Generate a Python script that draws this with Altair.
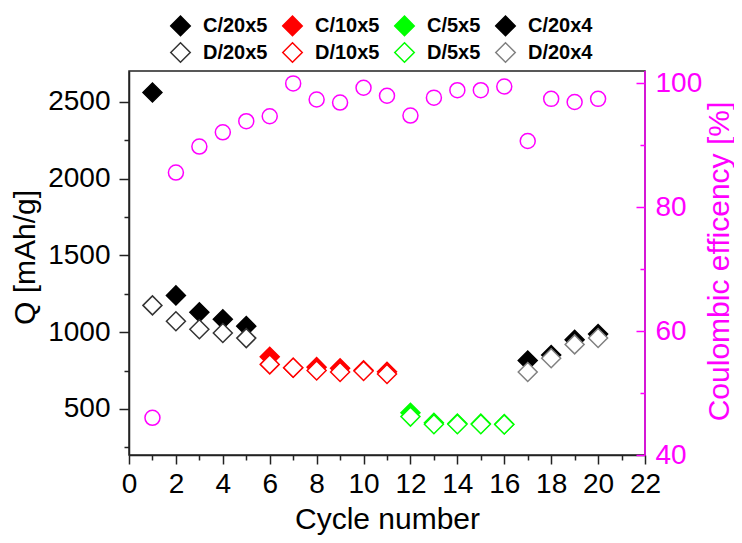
import altair as alt
import pandas as pd

# ---- data ----
cycles = list(range(1, 21))
rate = ["20x5"] * 5 + ["10x5"] * 6 + ["5x5"] * 5 + ["20x4"] * 4
charge = [2560, 1239, 1129, 1084, 1039, 840, 768, 772, 765, 752, 742, 475, 410, 405, 404, 401, 815, 851, 950, 987]
discharge = [1174, 1071, 1019, 994, 961, 790, 768, 750, 740, 747, 727, 450, 400, 400, 400, 399, 740, 830, 920, 962]
efficiency = [46.0, 85.6, 89.8, 92.1, 93.9, 94.7, 100.0, 97.4, 96.9, 99.3, 98.0, 94.8, 97.7, 98.9, 98.9, 99.5, 90.7, 97.5, 97.0, 97.5]

series_order = ["C/20x5", "C/10x5", "C/5x5", "C/20x4", "D/20x5", "D/10x5", "D/5x5", "D/20x4"]
fill_colors = ["#000000", "#ff0000", "#00ff00", "#000000", "#ffffff", "#ffffff", "#ffffff", "#ffffff"]
stroke_colors = ["#000000", "#ff0000", "#00ff00", "#000000", "#333333", "#ff0000", "#00ff00", "#808080"]

x_ticks = list(range(0, 23))
q_ticks = list(range(250, 2501, 250))
ce_ticks = list(range(40, 101, 10))

rows = []
for c, r, v in zip(cycles, rate, charge):
    rows.append({"cycle": c, "Q": v, "series": "C/" + r})
for c, r, v in zip(cycles, rate, discharge):
    rows.append({"cycle": c, "Q": v, "series": "D/" + r})
qdf = pd.DataFrame(rows)
cedf = pd.DataFrame({"cycle": cycles, "CE": efficiency})
edge = pd.DataFrame({"cycle": [22]})

FONT = "Liberation Sans"
MAG = "#ff00ff"
AX = "#222222"

x_scale = alt.Scale(domain=[0, 22], nice=False, zero=False)

x_axis = alt.Axis(
    values=x_ticks, format="d",
    labelExpr="datum.value % 2 === 0 ? datum.label : ''",
    title="Cycle number", titleFont=FONT, titleFontSize=30, titleFontWeight="normal", titleColor="black",
    titleX=258, titleY=73, titleAlign="center", titleBaseline="alphabetic",
    labelFont=FONT, labelFontSize=28, labelColor="black", labelPadding=28, labelBaseline="alphabetic",
    labelFlush=False, labelOverlap=False,
    tickSize=9, tickWidth=1.5, tickColor=AX,
    tickDash={"condition": {"test": "datum.value % 2 === 0", "value": [20, 1]}, "value": [5, 20]},
    domainColor=AX, domainWidth=1.5, grid=False,
)
x_enc = alt.X("cycle:Q", scale=x_scale, axis=x_axis)

left_axis = alt.Axis(
    orient="left", values=q_ticks, format="d",
    labelExpr="datum.value % 500 === 0 ? datum.label : ''",
    title="Q [mAh/g]", titleFont=FONT, titleFontSize=30, titleFontWeight="normal", titleColor="black",
    titleAngle=270, titleX=-104, titleY=186, titleAlign="center", titleBaseline="middle",
    labelFont=FONT, labelFontSize=28, labelColor="black", labelPadding=9,
    labelFlush=False, labelOverlap=False,
    tickSize=10, tickWidth=1.5, tickColor=AX,
    tickDash={"condition": {"test": "datum.value % 500 === 0", "value": [20, 1]}, "value": [5, 20]},
    domainColor=AX, domainWidth=1.5, grid=False,
)

right_axis = alt.Axis(
    orient="right", values=ce_ticks, format="d", offset=-9, domain=False,
    labelExpr="datum.value % 20 === 0 ? datum.label : ''",
    title="Coulombic efficency [%]", titleFont=FONT, titleFontSize=30, titleFontWeight="normal", titleColor=MAG,
    titleAngle=270, titleX=83, titleY=190, titleAlign="center", titleBaseline="middle",
    labelFont=FONT, labelFontSize=28, labelColor=MAG, labelPadding=10,
    labelFlush=False, labelOverlap=False,
    tickSize=9, tickWidth=1.5, tickColor=MAG,
    tickDash={"condition": {"test": "datum.value % 20 === 0", "value": [20, 1]}, "value": [0, 4, 5, 1]},
    grid=False,
)

legend = alt.Legend(
    title=None, orient="none", legendX=41, legendY=-56, direction="horizontal", columns=4,
    symbolType="diamond", symbolSize=380, symbolStrokeWidth=1.5, symbolOpacity=1,
    labelFont=FONT, labelFontSize=20, labelFontWeight="bold", labelColor="black",
    labelOffset=12, columnPadding=11, rowPadding=0, padding=0, labelLimit=300,
)

q_layer = alt.Chart(qdf).mark_point(
    shape="diamond", filled=True, size=360, strokeWidth=1.5, opacity=1
).encode(
    x=x_enc,
    y=alt.Y("Q:Q", scale=alt.Scale(domain=[200, 2700], nice=False, zero=False), axis=left_axis),
    fill=alt.Fill("series:N", scale=alt.Scale(domain=series_order, range=fill_colors), legend=legend),
    stroke=alt.Stroke("series:N", scale=alt.Scale(domain=series_order, range=stroke_colors), legend=legend),
)

ce_layer = alt.Chart(cedf).mark_point(
    shape="circle", filled=False, size=225, strokeWidth=1.5, color=MAG, opacity=1
).encode(
    x=x_enc,
    y=alt.Y("CE:Q", scale=alt.Scale(domain=[40, 102], nice=False, zero=False), axis=right_axis),
)

edge_layer = alt.Chart(edge).mark_rule(color=MAG, strokeWidth=1.5).encode(
    x=x_enc,
)

chart = alt.layer(q_layer, ce_layer, edge_layer).resolve_scale(
    y="independent"
).properties(
    width=516, height=384,
    autosize=alt.AutoSizeParams(type="none"),
    padding={"left": 121, "top": 63, "right": 89, "bottom": 80},
).configure_view(stroke=AX, strokeWidth=1.5)

chart.save("out.html", embed_options={"renderer": "svg", "actions": False})
